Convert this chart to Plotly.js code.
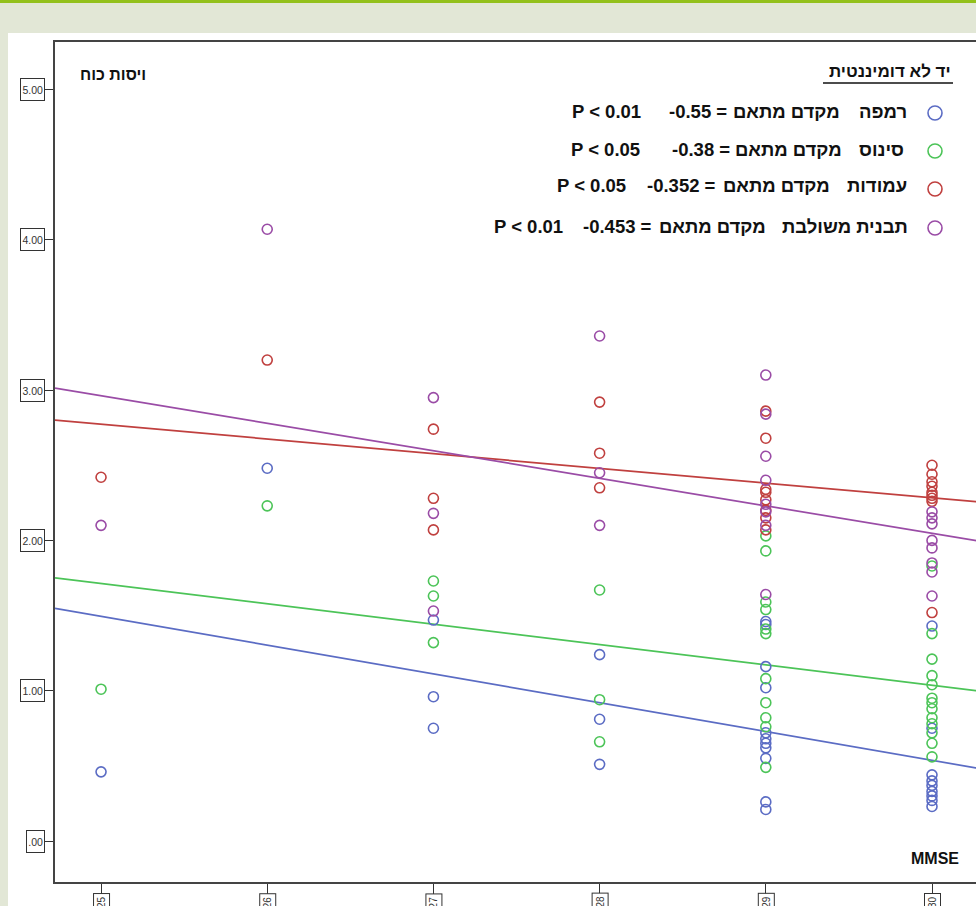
<!DOCTYPE html>
<html>
<head>
<meta charset="utf-8">
<script src="https://cdn.plot.ly/plotly-3.0.1.min.js"></script>
<style>
  html, body { margin:0; padding:0; width:976px; height:906px; overflow:hidden; background:#e2e7d6; }
  #topbar { position:absolute; left:0; top:0; width:976px; height:3px; background:#93c11c; }
  #panel { position:absolute; left:8px; top:33px; width:980px; height:900px; background:#ffffff; }
  #chart { position:absolute; left:0; top:0; width:1000px; height:906px; }
</style>
</head>
<body>
<div id="topbar"></div>
<div id="panel"></div>
<div id="chart"></div>
<script>
// ---- data ----
const xTicks = [25, 26, 27, 28, 29, 30];
const xTickText = ["25", "26", "27", "28", "29", "30"];
const yTicks = [0, 1, 2, 3, 4, 5];
const yTickText = [".00", "1.00", "2.00", "3.00", "4.00", "5.00"];

const seriesNames = ["רמפה", "סינוס", "עמודות", "תבנית משולבת"];
const corrValues = ["-0.55", "-0.38", "-0.352", "-0.453"];
const pValues = ["P < 0.01", "P < 0.05", "P < 0.05", "P < 0.01"];
const seriesColors = ["#5b6cc4", "#4cc458", "#c0403f", "#9a4ca6"];

const rampX = [25, 26, 27, 27, 27, 28, 28, 28,
  29, 29, 29, 29, 29, 29, 29, 29, 29, 29, 29,
  30, 30, 30, 30, 30, 30, 30, 30, 30];
const rampY = [0.46, 2.48, 1.47, 0.96, 0.75, 1.24, 0.81, 0.51,
  1.46, 1.44, 1.16, 1.02, 0.72, 0.68, 0.65, 0.62, 0.55, 0.26, 0.21,
  1.43, 0.75, 0.44, 0.40, 0.37, 0.33, 0.30, 0.27, 0.23];

const sinusX = [25, 26, 27, 27, 27, 28, 28, 28,
  29, 29, 29, 29, 29, 29, 29, 29, 29, 29, 29,
  30, 30, 30, 30, 30, 30, 30, 30, 30, 30, 30, 30, 30];
const sinusY = [1.01, 2.23, 1.73, 1.63, 1.32, 1.67, 0.94, 0.66,
  2.03, 1.93, 1.59, 1.54, 1.41, 1.38, 1.08, 0.92, 0.82, 0.76, 0.49,
  1.83, 1.38, 1.21, 1.10, 1.04, 0.95, 0.92, 0.88, 0.82, 0.78, 0.72, 0.65, 0.56];

const columnsX = [25, 26, 27, 27, 27, 28, 28, 28,
  29, 29, 29, 29, 29, 29, 29, 29,
  30, 30, 30, 30, 30, 30, 30, 30, 30];
const columnsY = [2.42, 3.20, 2.74, 2.28, 2.07, 2.92, 2.58, 2.35,
  2.86, 2.68, 2.34, 2.32, 2.27, 2.20, 2.15, 2.07,
  2.50, 2.44, 2.39, 2.36, 2.32, 2.30, 2.28, 2.26, 1.52];

const combinedX = [25, 26, 27, 27, 27, 28, 28, 28,
  29, 29, 29, 29, 29, 29, 29, 29,
  30, 30, 30, 30, 30, 30, 30, 30];
const combinedY = [2.10, 4.07, 2.95, 2.18, 1.53, 3.36, 2.45, 2.10,
  3.10, 2.84, 2.56, 2.40, 2.24, 2.19, 2.10, 1.64,
  2.19, 2.15, 2.11, 2.00, 1.95, 1.85, 1.79, 1.63];

// fit lines (values at the two ends of the x range)
const fitX = [24.723, 30.349];
const rampFit = [1.548, 0.470];
const sinusFit = [1.751, 0.989];
const columnsFit = [2.800, 2.249];
const combinedFit = [3.013, 1.983];

// ---- layout helpers ----
const W = 1000, H = 906;
const M = {l: 55, r: 10, t: 42, b: 24};
const PW = W - M.l - M.r, PH = H - M.t - M.b;
const pxX = p => (p - M.l) / PW;
const pxY = p => (H - M.b - p) / PH;

const FONT = "Liberation Sans, Arial, DejaVu Sans, sans-serif";

const xs = [rampX, sinusX, columnsX, combinedX];
const ys = [rampY, sinusY, columnsY, combinedY];
const fits = [rampFit, sinusFit, columnsFit, combinedFit];

const traces = [];
for (let i = 0; i < 4; i++) {
  traces.push({
    type: "scatter", mode: "lines", x: fitX, y: fits[i],
    line: {color: seriesColors[i], width: 1.7}, hoverinfo: "skip", showlegend: false
  });
}
for (let i = 0; i < 4; i++) {
  traces.push({
    type: "scatter", mode: "markers", x: xs[i], y: ys[i], name: seriesNames[i],
    marker: {symbol: "circle-open", size: 10, color: seriesColors[i], line: {width: 1.6, color: seriesColors[i]}},
    showlegend: false
  });
}

const annotations = [];
// y tick label boxes
yTicks.forEach((v, i) => {
  const narrow = yTickText[i].length < 4;
  annotations.push({
    xref: "paper", yref: "y", x: pxX(45), y: v, xanchor: "right", yanchor: "middle",
    text: yTickText[i], showarrow: false,
    width: narrow ? 15 : 21, height: 19, align: "right", valign: "middle",
    font: {family: FONT, size: 10.5, color: "#333"},
    bordercolor: "#333", borderwidth: 1, borderpad: 1, bgcolor: "#fff"
  });
});
// x tick label boxes (cut off by the bottom of the window, as in the reference)
xTicks.forEach((v, i) => {
  annotations.push({
    xref: "x", yref: "paper", x: v, y: pxY(893), xanchor: "center", yanchor: "top",
    text: xTickText[i], showarrow: false, textangle: -90,
    font: {family: FONT, size: 10, color: "#333"},
    bordercolor: "#333", borderwidth: 1, borderpad: 2, bgcolor: "#fff"
  });
});
// axis titles inside plot
annotations.push({
  xref: "paper", yref: "paper", x: pxX(148), y: pxY(75), xanchor: "right", yanchor: "middle",
  text: "<b>ויסות כוח</b>", showarrow: false, font: {family: FONT, size: 16, color: "#111"}
});
annotations.push({
  xref: "paper", yref: "paper", x: pxX(961), y: pxY(858), xanchor: "right", yanchor: "middle",
  text: "<b>MMSE</b>", showarrow: false, font: {family: FONT, size: 16, color: "#111"}
});
// legend title
annotations.push({
  xref: "paper", yref: "paper", x: pxX(953), y: pxY(72), xanchor: "right", yanchor: "middle",
  text: "<b>יד לא דומיננטית</b>", showarrow: false, font: {family: FONT, size: 17, color: "#111"}
});

// legend rows
const rowY = [111, 149, 186, 226];
const circY = [113, 151, 189, 228];
const nameCX = [883, 881, 877, 845];
const mekCX = [786, 788, 776, 712];
const numCX = [698, 701, 681, 617];
const pCX = [606, 605, 591, 528];
const shapes = [];
for (let i = 0; i < 4; i++) {
  const f = {family: FONT, size: 18.5, color: "#111"};
  annotations.push({xref: "paper", yref: "paper", x: pxX(nameCX[i]), y: pxY(rowY[i]), xanchor: "center", yanchor: "middle",
    text: "<b>" + seriesNames[i] + "</b>", showarrow: false, font: f});
  annotations.push({xref: "paper", yref: "paper", x: pxX(mekCX[i]), y: pxY(rowY[i]), xanchor: "center", yanchor: "middle",
    text: "<b>מקדם מתאם</b>", showarrow: false, font: f});
  annotations.push({xref: "paper", yref: "paper", x: pxX(numCX[i]), y: pxY(rowY[i]), xanchor: "center", yanchor: "middle",
    text: "<b>" + corrValues[i] + " =</b>", showarrow: false, font: f});
  annotations.push({xref: "paper", yref: "paper", x: pxX(pCX[i]), y: pxY(rowY[i]), xanchor: "center", yanchor: "middle",
    text: "<b>" + pValues[i] + "</b>", showarrow: false, font: f});
  shapes.push({type: "circle", xref: "paper", yref: "paper", xsizemode: "pixel", ysizemode: "pixel",
    xanchor: pxX(935), yanchor: pxY(circY[i]), x0: -7, x1: 7, y0: -7, y1: 7,
    line: {color: seriesColors[i], width: 1.6}, fillcolor: "rgba(0,0,0,0)"});
}
// underline of legend title
shapes.push({type: "line", xref: "paper", yref: "paper", x0: pxX(823), x1: pxX(953), y0: pxY(83), y1: pxY(83),
  line: {color: "#111", width: 1.5}});

const layout = {
  width: W, height: H,
  margin: M,
  paper_bgcolor: "rgba(0,0,0,0)",
  plot_bgcolor: "#ffffff",
  showlegend: false,
  xaxis: {
    range: [24.723, 30.349], tickvals: xTicks, showticklabels: false,
    ticks: "outside", ticklen: 11, tickwidth: 1, tickcolor: "#333",
    showgrid: false, zeroline: false, showline: true, mirror: true,
    linecolor: "#444", linewidth: 2
  },
  yaxis: {
    range: [-0.2728, 5.316], tickvals: yTicks, showticklabels: false,
    ticks: "outside", ticklen: 10, tickwidth: 1, tickcolor: "#333",
    showgrid: false, zeroline: false, showline: true, mirror: true,
    linecolor: "#444", linewidth: 2
  },
  annotations: annotations,
  shapes: shapes,
  font: {family: FONT}
};

Plotly.newPlot("chart", traces, layout, {displayModeBar: false, staticPlot: true});
</script>
</body>
</html>
